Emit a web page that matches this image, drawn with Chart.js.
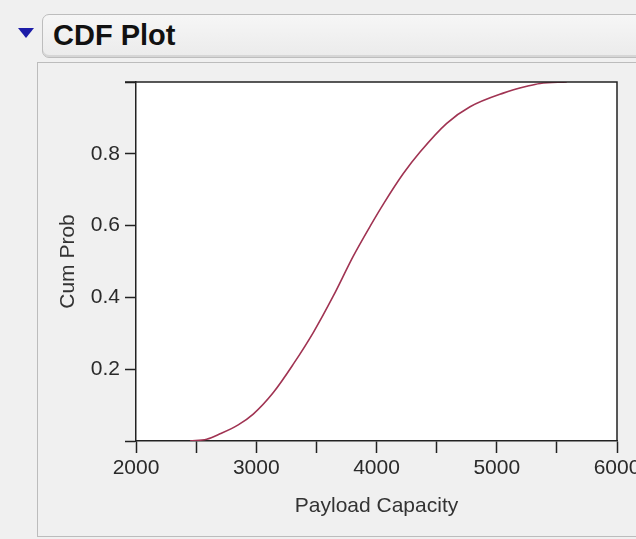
<!DOCTYPE html>
<html>
<head>
<meta charset="utf-8">
<script src="https://cdn.jsdelivr.net/npm/chart.js@4"></script>
<style>
  html, body { margin: 0; padding: 0; }
  body { width: 636px; height: 539px; overflow: hidden; background: #f0f0f0; position: relative; font-family: "Liberation Sans", Arial, sans-serif; }
  #tri { position: absolute; left: 18px; top: 28px; width: 0; height: 0; border-left: 8px solid transparent; border-right: 8px solid transparent; border-top: 10px solid #1c1ca8; }
  #head { position: absolute; left: 42px; top: 14px; width: 620px; height: 42px; border: 1px solid #bdbdbd; border-radius: 7px; background: linear-gradient(#f6f6f6, #ebebeb); box-shadow: inset 0 -2px 0 #d6d6d6; }
  #head span { position: absolute; left: 10px; top: 4px; font-weight: bold; font-size: 29px; color: #111; }
  #panel { position: absolute; left: 37px; top: 62px; width: 620px; height: 473px; border: 1px solid #bcbcbc; background: #f0f0f0; }
  #wrap { position: absolute; left: 0; top: 0; width: 660px; height: 539px; }
</style>
</head>
<body>
<div id="tri"></div>
<div id="head"><span>CDF Plot</span></div>
<div id="panel"></div>
<div id="wrap"><canvas id="cdf" width="660" height="539"></canvas></div>
<script>
// values
const payload = [2449, 2588, 2699, 2850, 2975, 3142, 3308, 3474, 3641, 3807, 3950, 4057, 4223, 4362, 4584, 4778, 5054, 5250, 5360, 5582];
const cumProb = [0, 0.005, 0.02, 0.045, 0.075, 0.135, 0.214, 0.302, 0.404, 0.515, 0.60, 0.66, 0.745, 0.805, 0.885, 0.931, 0.969, 0.988, 0.996, 1.0];
const xLabels = [2000, 3000, 4000, 5000, 6000];
const yLabels = [0.2, 0.4, 0.6, 0.8];

const points = payload.map((p, i) => ({ x: p, y: cumProb[i] }));

// white plot area plus top/right frame
const frame = {
    id: 'frame',
    beforeDraw(chart) {
        const a = chart.chartArea, ctx = chart.ctx;
        ctx.save();
        ctx.fillStyle = '#ffffff';
        ctx.fillRect(a.left, a.top, a.right - a.left, a.bottom - a.top);
        ctx.restore();
    },
    afterDraw(chart) {
        const a = chart.chartArea, ctx = chart.ctx;
        ctx.save();
        ctx.strokeStyle = '#222';
        ctx.lineWidth = 1.5;
        ctx.beginPath();
        ctx.moveTo(a.left - 11, a.top);
        ctx.lineTo(a.right, a.top);
        ctx.lineTo(a.right, a.bottom);
        ctx.stroke();
        ctx.restore();
    }
};

const tickFont = { family: '"Liberation Sans", Arial, sans-serif', size: 21 };

new Chart(document.getElementById('cdf'), {
    type: 'line',
    data: {
        datasets: [{
            data: points,
            borderColor: '#a03352',
            borderWidth: 1.6,
            pointRadius: 0,
            cubicInterpolationMode: 'monotone',
            fill: false
        }]
    },
    options: {
        responsive: false,
        animation: false,
        plugins: { legend: { display: false }, tooltip: { enabled: false } },
        layout: { padding: { left: 0, top: 82, right: 43, bottom: 0 } },
        scales: {
            x: {
                type: 'linear',
                min: 2000,
                max: 6000,
                afterFit: s => { s.height = 98; },
                ticks: {
                    stepSize: 500,
                    autoSkip: false,
                    maxRotation: 0,
                    padding: 3,
                    color: '#2a2a2a',
                    font: tickFont,
                    callback: v => xLabels.includes(v) ? String(v) : ''
                },
                grid: { drawOnChartArea: false, tickLength: 12, tickColor: '#222', tickWidth: 1.5 },
                border: { color: '#222', width: 1.5 },
                title: { display: true, text: 'Payload Capacity', color: '#333', font: tickFont, padding: { top: 0, bottom: 20 } }
            },
            y: {
                min: 0,
                max: 1,
                afterFit: s => { s.width = 136; },
                ticks: {
                    stepSize: 0.2,
                    autoSkip: false,
                    padding: 5,
                    color: '#2a2a2a',
                    font: tickFont,
                    callback: v => yLabels.some(l => Math.abs(l - v) < 1e-6) ? v.toFixed(1) : ''
                },
                grid: { drawOnChartArea: false, tickLength: 11, tickColor: '#222', tickWidth: 1.5 },
                border: { color: '#222', width: 1.5 },
                title: { display: true, text: 'Cum Prob', color: '#333', font: tickFont, padding: { top: 56, bottom: 0 } }
            }
        }
    },
    plugins: [frame]
});
</script>
</body>
</html>
